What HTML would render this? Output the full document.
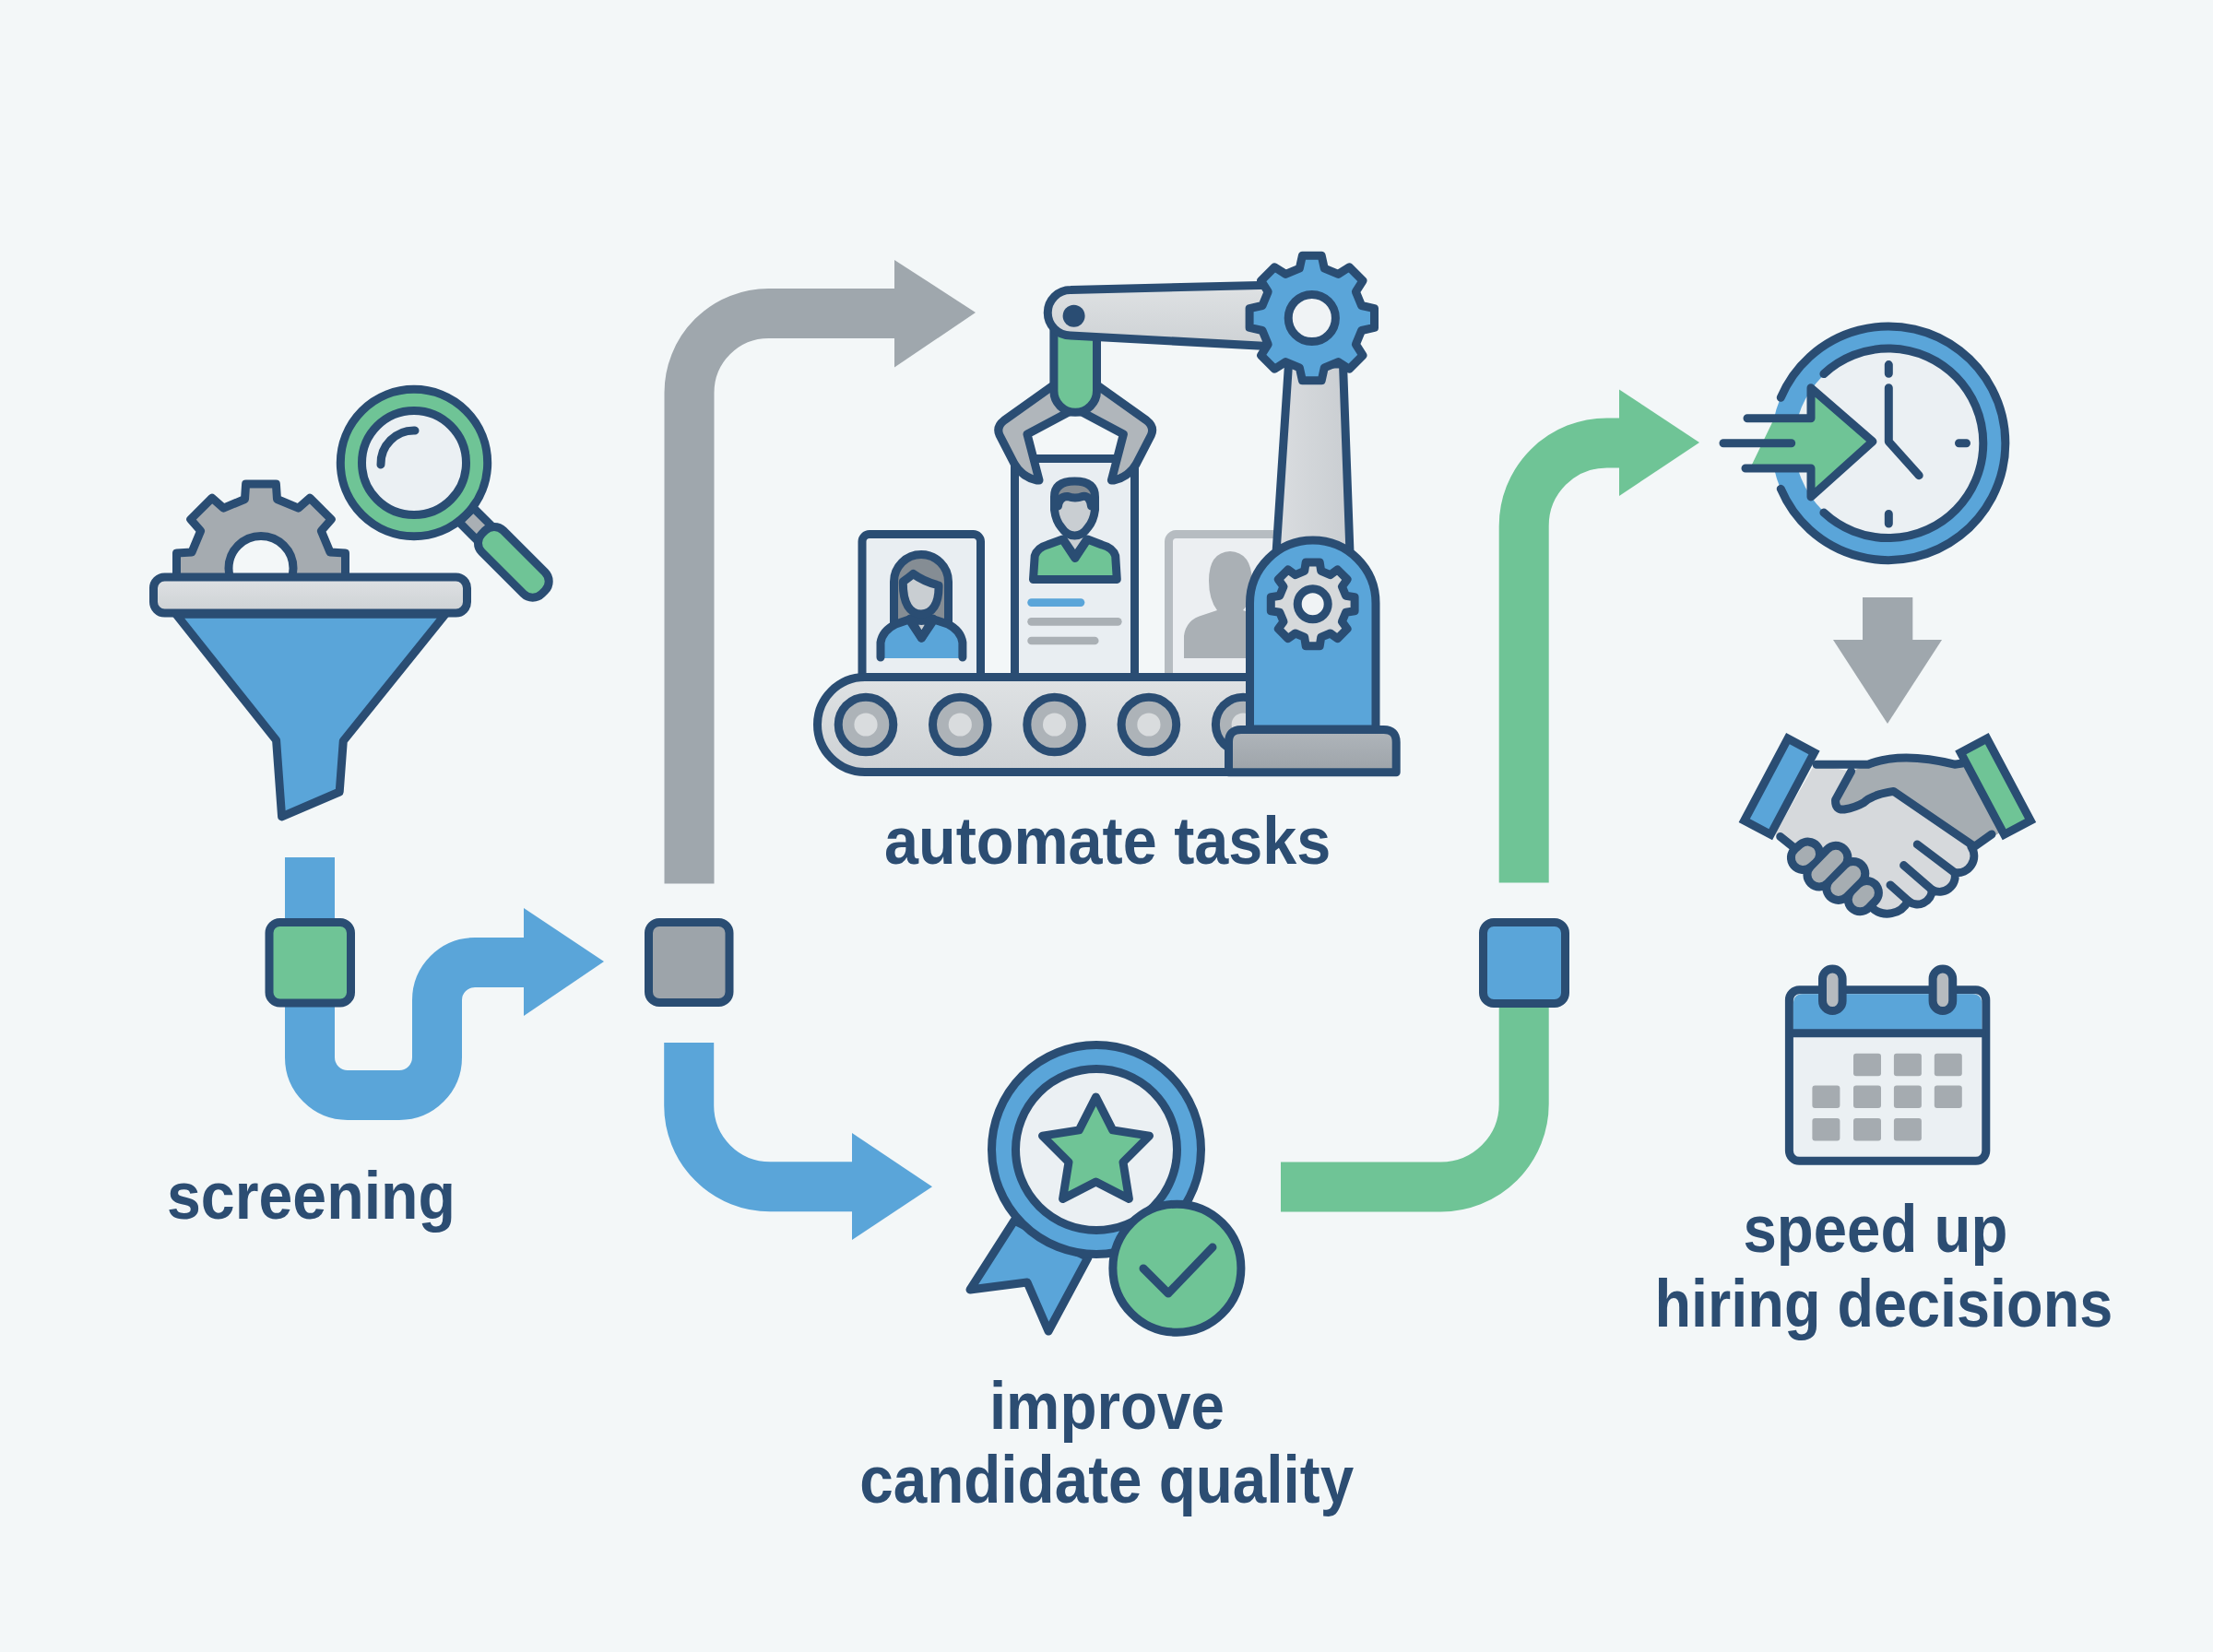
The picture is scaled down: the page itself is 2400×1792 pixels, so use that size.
<!DOCTYPE html>
<html><head><meta charset="utf-8"><style>html,body{margin:0;padding:0;background:#f3f7f8;}svg{display:block}</style></head>
<body><svg width="2400" height="1792" viewBox="0 0 2400 1792">
<defs><linearGradient id="lg" x1="0" y1="0" x2="0" y2="1"><stop offset="0" stop-color="#dfe2e4"/><stop offset="1" stop-color="#cdd1d4"/></linearGradient><linearGradient id="lgh" x1="0" y1="0" x2="1" y2="0"><stop offset="0" stop-color="#dadde0"/><stop offset="1" stop-color="#c9cdd1"/></linearGradient><linearGradient id="dg" x1="0" y1="0" x2="0" y2="1"><stop offset="0" stop-color="#b0b6bb"/><stop offset="1" stop-color="#9da3a9"/></linearGradient></defs>
<rect x="0" y="0" width="2400" height="1792" fill="#f3f7f8"/>
<path d="M336,930 V1147 A41,41 0 0 0 377,1188 H433 A41,41 0 0 0 474,1147 V1085 A41,41 0 0 1 515,1044 H570" stroke="#5aa5d9" fill="none" stroke-width="54" stroke-linecap="butt"/>
<path d="M568,985 L655,1043 L568,1102Z" fill="#5aa5d9"/>
<path d="M747.5,958.5 V426 A86,86 0 0 1 833.5,340 H972" stroke="#9fa7ad" fill="none" stroke-width="54" stroke-linecap="butt"/>
<path d="M970,282 L1058,339 L970,398.5Z" fill="#9fa7ad"/>
<path d="M747.2,1131 V1199.3 A88,88 0 0 0 835.2,1287.3 H926" stroke="#5aa5d9" fill="none" stroke-width="54" stroke-linecap="butt"/>
<path d="M924,1229 L1011,1287.3 L924,1345Z" fill="#5aa5d9"/>
<path d="M1389,1287.5 H1562.7 A90,90 0 0 0 1652.7,1197.5 V1090" stroke="#6fc496" fill="none" stroke-width="54" stroke-linecap="butt"/>
<path d="M1652.7,957.5 V570.4 A90,90 0 0 1 1742.7,480.4 H1758" stroke="#6fc496" fill="none" stroke-width="54" stroke-linecap="butt"/>
<path d="M1756,422.5 L1843,480 L1756,538Z" fill="#6fc496"/>
<rect x="2020" y="648" width="54.3" height="47" fill="#9fa7ad"/>
<path d="M1988,694 L2106,694 L2047,785Z" fill="#9fa7ad"/>
<rect x="292" y="1000.5" width="88.5" height="87.5" rx="11.5" fill="#6fc496" stroke="#2a4d73" stroke-width="9"/>
<rect x="703.5" y="1000.5" width="87.5" height="87" rx="11.5" fill="#9da4aa" stroke="#2a4d73" stroke-width="9"/>
<rect x="1608.5" y="1000.5" width="89" height="88" rx="11.5" fill="#5aa5d9" stroke="#2a4d73" stroke-width="9"/>
<path d="M265.5,541.5 L266.6,525.0 L299.4,525.0 L300.5,541.5 L323.6,551.1 L336.1,540.2 L359.3,563.4 L348.4,575.9 L358.0,599.0 L374.5,600.1 L374.5,632.9 L358.0,634.0 L348.4,657.1 L359.3,669.6 L336.1,692.8 L323.6,681.9 L300.5,691.5 L299.4,708.0 L266.6,708.0 L265.5,691.5 L242.4,681.9 L229.9,692.8 L206.7,669.6 L217.6,657.1 L208.0,634.0 L191.5,632.9 L191.5,600.1 L208.0,599.0 L217.6,575.9 L206.7,563.4 L229.9,540.2 L242.4,551.1Z" fill="#a5abb0" stroke="#2a4d73" stroke-width="9" stroke-linejoin="round"/>
<circle cx="283" cy="616.5" r="35" fill="#f3f7f8" stroke="#2a4d73" stroke-width="9"/>
<rect x="166.5" y="626" width="340" height="39" rx="12" fill="url(#lg)" stroke="#2a4d73" stroke-width="9"/>
<path d="M190.9,666.3 L299.6,803 L305.6,885.9 L368.2,859 L372.3,803.7 L483,666.3Z" fill="#5aa5d9" stroke="#2a4d73" stroke-width="9" stroke-linejoin="round"/>
<g transform="translate(449,502) rotate(45)"><rect x="80" y="-11" width="28" height="22" fill="#a9afb4" stroke="#2a4d73" stroke-width="9"/><rect x="106.5" y="-16.5" width="92" height="33" rx="14" fill="#6fc496" stroke="#2a4d73" stroke-width="9"/></g>
<circle cx="449" cy="502" r="79.7" fill="#6fc496" stroke="#2a4d73" stroke-width="9"/>
<circle cx="449" cy="502" r="56.5" fill="#ebf0f3" stroke="#2a4d73" stroke-width="9"/>
<path d="M413,504 A36,36 0 0 1 450,467" fill="none" stroke="#2a4d73" stroke-width="9" stroke-linecap="round"/>
<rect x="935" y="579.5" width="128.5" height="170" rx="8" fill="#e9eef2" stroke="#2a4d73" stroke-width="9"/>
<rect x="1100.5" y="497.5" width="130" height="250" rx="8" fill="#e9eef2" stroke="#2a4d73" stroke-width="9"/>
<rect x="1267.5" y="579.5" width="140" height="170" rx="8" fill="#eceff2" stroke="#b6bcc1" stroke-width="9"/>
<path d="M1284,714 V690 Q1286,672 1305,667 L1320,662 Q1311,650 1311,630 Q1311,599 1334,598 Q1357,599 1358,630 Q1358,652 1348,662 L1363,667 Q1380,672 1382,690 V714Z" fill="#aab0b5"/>
<path d="M969.5,706 V631 A29.5,29.5 0 0 1 1028.5,631 V706Z" fill="#858d94" stroke="#2a4d73" stroke-width="9" stroke-linejoin="round"/>
<path d="M955,714 V697 Q957,684 971.5,677 L986,672 L999.4,692.3 L1013,672 L1028,677 Q1042,684 1043.9,697 V714Z" fill="#5aa5d9"/>
<path d="M955,713 V697 Q957,684 971.5,677 L986,672 L999.4,692.3 L1013,672 L1028,677 Q1042,684 1043.9,697 V713" fill="none" stroke="#2a4d73" stroke-width="9" stroke-linejoin="round" stroke-linecap="round"/>
<path d="M987,671 Q999,676 1012,671 L999.4,692Z" fill="#c9ced2" stroke="#2a4d73" stroke-width="9" stroke-linejoin="round"/>
<path d="M979.3,631 Q985,627 990.4,622.5 Q1002,631 1018,635 C1018.5,655 1011,666 999,666 C987,666 979,655 979.3,631Z" fill="#c9ced2" stroke="#2a4d73" stroke-width="9" stroke-linejoin="round"/>
<path d="M1120.5,628.5 L1122.2,603 Q1125,594 1136,591 L1152.4,585 L1165.9,605.6 L1179.4,585 L1195,591 Q1207,594 1209.7,603 L1211.3,628.5Z" fill="#6fc496" stroke="#2a4d73" stroke-width="9" stroke-linejoin="round"/>
<path d="M1151,582 L1180.8,582 L1165.9,604Z" fill="#c9ced2"/>
<path d="M1151,582 L1165.9,604 L1180.8,582" fill="none" stroke="#2a4d73" stroke-width="9" stroke-linejoin="round"/>
<path d="M1143.5,553 L1143.5,539 Q1143.5,522 1165.5,522 Q1187.5,522 1187.5,539 L1187.5,553 Q1186,565 1180,572 Q1174,581 1165.5,581 Q1157,581 1151,572 Q1145,565 1143.5,553Z" fill="#c9ced2"/>
<path d="M1147,550 L1147,538 Q1148,526 1165.5,526 Q1183,526 1184,538 L1184,550 Q1181,537 1174,538 Q1166,541 1158,538 Q1150,537 1147,550Z" fill="#858d94"/>
<path d="M1147.5,549 Q1149,538 1158,538.5 Q1166,541.5 1174,538.5 Q1182,537 1183.5,549" fill="none" stroke="#2a4d73" stroke-width="9" stroke-linecap="round" stroke-linejoin="round"/>
<path d="M1143.5,553 L1143.5,539 Q1143.5,522 1165.5,522 Q1187.5,522 1187.5,539 L1187.5,553 Q1186,565 1180,572 Q1174,581 1165.5,581 Q1157,581 1151,572 Q1145,565 1143.5,553Z" fill="none" stroke="#2a4d73" stroke-width="9" stroke-linejoin="round"/>
<path d="M1118.6,653.6 H1172" stroke="#5aa5d9" stroke-width="8.7" stroke-linecap="round"/>
<path d="M1118.6,674.3 H1212.3" stroke="#aab0b5" stroke-width="8.7" stroke-linecap="round"/>
<path d="M1118.6,695 H1187.2" stroke="#aab0b5" stroke-width="8.7" stroke-linecap="round"/>
<rect x="886.5" y="734.5" width="560" height="103" rx="51.5" fill="url(#lg)" stroke="#2a4d73" stroke-width="9"/>
<circle cx="939" cy="786" r="29.8" fill="#adb3b8" stroke="#2a4d73" stroke-width="9"/>
<circle cx="939" cy="786" r="12.6" fill="#d9dcde"/>
<circle cx="1041.3" cy="786" r="29.8" fill="#adb3b8" stroke="#2a4d73" stroke-width="9"/>
<circle cx="1041.3" cy="786" r="12.6" fill="#d9dcde"/>
<circle cx="1143.6" cy="786" r="29.8" fill="#adb3b8" stroke="#2a4d73" stroke-width="9"/>
<circle cx="1143.6" cy="786" r="12.6" fill="#d9dcde"/>
<circle cx="1245.9" cy="786" r="29.8" fill="#adb3b8" stroke="#2a4d73" stroke-width="9"/>
<circle cx="1245.9" cy="786" r="12.6" fill="#d9dcde"/>
<circle cx="1348.2" cy="786" r="29.8" fill="#adb3b8" stroke="#2a4d73" stroke-width="9"/>
<circle cx="1348.2" cy="786" r="12.6" fill="#d9dcde"/>
<path d="M1397.5,395 L1456.5,395 L1464,600 L1384,600Z" fill="url(#lgh)" stroke="#2a4d73" stroke-width="9" stroke-linejoin="round"/>
<path d="M1355.5,791 V654.3 A68.25,68.25 0 0 1 1492,654.3 V791Z" fill="#5aa5d9" stroke="#2a4d73" stroke-width="9"/>
<path d="M1332.5,837.7 V805 Q1332.5,791.5 1346,791.5 H1500.7 Q1514.2,791.5 1514.2,805 V837.7Z" fill="url(#dg)" stroke="#2a4d73" stroke-width="9" stroke-linejoin="round"/>
<path d="M1414.7,619.4 L1416.2,609.9 L1431.2,609.9 L1432.7,619.4 L1442.7,623.6 L1450.5,617.9 L1461.1,628.5 L1455.4,636.3 L1459.6,646.3 L1469.1,647.8 L1469.1,662.8 L1459.6,664.3 L1455.4,674.3 L1461.1,682.1 L1450.5,692.7 L1442.7,687.0 L1432.7,691.2 L1431.2,700.7 L1416.2,700.7 L1414.7,691.2 L1404.7,687.0 L1396.9,692.7 L1386.3,682.1 L1392.0,674.3 L1387.8,664.3 L1378.3,662.8 L1378.3,647.8 L1387.8,646.3 L1392.0,636.3 L1386.3,628.5 L1396.9,617.9 L1404.7,623.6Z" fill="#d6d9db" stroke="#2a4d73" stroke-width="9" stroke-linejoin="round"/>
<circle cx="1423.7" cy="655.3" r="16.5" fill="#f0f3f5" stroke="#2a4d73" stroke-width="9"/>
<path d="M1141.0,419 L1089.0,456 Q1080.0,463 1084.0,472 L1100.0,503 Q1108.0,517 1124.0,521 L1127.0,521 L1114.0,471 L1159.0,447 Z" fill="#b0b6bb" stroke="#2a4d73" stroke-width="9" stroke-linejoin="round"/>
<path d="M1191.4,419 L1243.4,456 Q1252.4,463 1248.4,472 L1232.4,503 Q1224.4,517 1208.4,521 L1205.4,521 L1218.4,471 L1173.4,447 Z" fill="#b0b6bb" stroke="#2a4d73" stroke-width="9" stroke-linejoin="round"/>
<path d="M1142.9,350 V424 A23.3,23.3 0 0 0 1189.5,424 V350" fill="#6fc496" stroke="#2a4d73" stroke-width="9"/>
<path d="M1161,314.5 L1430,308 L1430,378.5 L1161,364 A24.5,24.5 0 0 1 1161,314.5Z" fill="url(#lg)" stroke="#2a4d73" stroke-width="9" stroke-linejoin="round"/>
<circle cx="1164.6" cy="342.8" r="12" fill="#2a4d73"/>
<path d="M1409.3,291.2 L1412.4,277.3 L1433.2,277.3 L1436.3,291.2 L1451.3,297.4 L1463.3,289.8 L1478.0,304.5 L1470.4,316.5 L1476.6,331.5 L1490.5,334.6 L1490.5,355.4 L1476.6,358.5 L1470.4,373.5 L1478.0,385.5 L1463.3,400.2 L1451.3,392.6 L1436.3,398.8 L1433.2,412.7 L1412.4,412.7 L1409.3,398.8 L1394.3,392.6 L1382.3,400.2 L1367.6,385.5 L1375.2,373.5 L1369.0,358.5 L1355.1,355.4 L1355.1,334.6 L1369.0,331.5 L1375.2,316.5 L1367.6,304.5 L1382.3,289.8 L1394.3,297.4Z" fill="#5aa5d9" stroke="#2a4d73" stroke-width="9" stroke-linejoin="round"/>
<circle cx="1422.8" cy="345" r="25.6" fill="#f0f3f5" stroke="#2a4d73" stroke-width="9"/>
<circle cx="2048" cy="480.8" r="127" fill="#5aa5d9"/>
<circle cx="2048" cy="480.8" r="102" fill="#ebf0f3"/>
<path d="M1931.3,431.3 A126.8,126.8 0 1 1 1931.3,530.3" fill="none" stroke="#2a4d73" stroke-width="9" stroke-linecap="round"/>
<path d="M1977.9,405.6 A102.8,102.8 0 1 1 1977.9,556.0" fill="none" stroke="#2a4d73" stroke-width="9" stroke-linecap="round"/>
<path d="M1898,508 L1925,452 L1964,453.7 L1964,420.8 L2030.9,478.9 L1964,539 L1964,508Z" fill="#6fc496"/>
<path d="M1895,453.7 H1964 V420.8 L2030.9,478.9 L1964,539 V508 H1893" fill="none" stroke="#2a4d73" stroke-width="9" stroke-linecap="round" stroke-linejoin="round"/>
<path d="M1869,480.8 H1942.7" stroke="#2a4d73" stroke-width="9" stroke-linecap="round"/>
<path d="M2048.3,395.6 V405.3 M2048.3,557.4 V568 M2124.5,480.8 H2132.5" stroke="#2a4d73" stroke-width="9" stroke-linecap="round"/>
<path d="M2048.3,420.8 V478.9 L2081.2,515.7" fill="none" stroke="#2a4d73" stroke-width="9" stroke-linecap="round" stroke-linejoin="round"/>
<path d="M1968,829 L2007.5,836.8 L1990.6,867.6 Q1990,879 2000,878 Q2012,876 2021.3,870.6 Q2030,862 2053.6,858.4 L2137.9,918.6 A18.3,18.3 0 0 1 2119.9,946.6 A17,17 0 0 1 2095.2,965.2 A15.7,15.7 0 0 1 2069.3,977.2 A25,25 0 0 1 2030,984.5 L1946,919.8 L1925,905Z" fill="#d6d9dc"/>
<path d="M2007.5,836.8 L2026,829.2 Q2062,815 2119.7,829.2 L2140,826 L2175,900 L2141.2,918.3 L2053.6,858.4 Q2030,862 2021.3,870.6 Q2012,876 2000,878 Q1990,879 1990.6,867.6Z" fill="#a6adb2"/>
<path d="M1970,829.2 L2026,829.2 Q2062,815 2119.7,829.2 L2128,828" fill="none" stroke="#2a4d73" stroke-width="9" stroke-linecap="round" stroke-linejoin="round"/>
<path d="M2007.5,836.8 L1990.6,867.6 Q1990,879 2000,878 Q2012,876 2021.3,870.6 Q2030,862 2053.6,858.4 L2141.2,918.3 L2160,905" fill="none" stroke="#2a4d73" stroke-width="9" stroke-linecap="round" stroke-linejoin="round"/>
<path d="M2137.9,918.6 A18.3,18.3 0 0 1 2119.9,946.6 A17,17 0 0 1 2095.2,965.2 A15.7,15.7 0 0 1 2069.3,977.2 A25,25 0 0 1 2030,984.5" fill="none" stroke="#2a4d73" stroke-width="9" stroke-linecap="round" stroke-linejoin="round"/>
<path d="M2079.3,916 L2119.9,946.6 M2064.6,938.6 L2095.2,965.2 M2050,959.9 L2069.3,977.2" fill="none" stroke="#2a4d73" stroke-width="9" stroke-linecap="round"/>
<path d="M1930.7,907.5 L1950,923" fill="none" stroke="#2a4d73" stroke-width="9" stroke-linecap="round"/>
<path d="M1955.4,930.5 L1960.6,926.1" stroke="#2a4d73" stroke-width="35" stroke-linecap="round"/>
<path d="M1972.9,948.9 L1990.9,930.3" stroke="#2a4d73" stroke-width="35" stroke-linecap="round"/>
<path d="M1993.8,963.4 L2009.8,947.4" stroke="#2a4d73" stroke-width="35" stroke-linecap="round"/>
<path d="M2017.2,975.8 L2024.4,968.4" stroke="#2a4d73" stroke-width="35" stroke-linecap="round"/>
<path d="M1955.4,930.5 L1960.6,926.1" stroke="#a6adb2" stroke-width="17" stroke-linecap="round"/>
<path d="M1972.9,948.9 L1990.9,930.3" stroke="#a6adb2" stroke-width="17" stroke-linecap="round"/>
<path d="M1993.8,963.4 L2009.8,947.4" stroke="#a6adb2" stroke-width="17" stroke-linecap="round"/>
<path d="M2017.2,975.8 L2024.4,968.4" stroke="#a6adb2" stroke-width="17" stroke-linecap="round"/>
<g transform="translate(1929.6,853.2) rotate(28)"><rect x="-16.15" y="-50.35" width="32.3" height="100.7" fill="#5aa5d9" stroke="#2a4d73" stroke-width="9"/></g>
<g transform="translate(2164.2,853.2) rotate(-28)"><rect x="-16.15" y="-50.35" width="32.3" height="100.7" fill="#6fc496" stroke="#2a4d73" stroke-width="9"/></g>
<rect x="1940.4" y="1073.8" width="213.4" height="185.5" rx="11" fill="#ebf0f3" stroke="#2a4d73" stroke-width="9"/>
<path d="M1944.9,1120.8 V1089 Q1944.9,1078.3 1955,1078.3 H2139 Q2149.3,1078.3 2149.3,1089 V1120.8Z" fill="#5aa5d9"/>
<path d="M1940.4,1120.8 H2153.8" stroke="#2a4d73" stroke-width="9"/>
<rect x="1976.5" y="1051" width="21.6" height="45.6" rx="10.8" fill="#b6bbbf" stroke="#2a4d73" stroke-width="9"/>
<rect x="2096.1" y="1051" width="21.6" height="45.6" rx="10.8" fill="#b6bbbf" stroke="#2a4d73" stroke-width="9"/>
<rect x="2010" y="1142.7" width="30" height="24.5" rx="3" fill="#a5abb0"/>
<rect x="2053.9" y="1142.7" width="30" height="24.5" rx="3" fill="#a5abb0"/>
<rect x="2097.8" y="1142.7" width="30" height="24.5" rx="3" fill="#a5abb0"/>
<rect x="1965.4" y="1177.5" width="30" height="24.5" rx="3" fill="#a5abb0"/>
<rect x="2010" y="1177.5" width="30" height="24.5" rx="3" fill="#a5abb0"/>
<rect x="2053.9" y="1177.5" width="30" height="24.5" rx="3" fill="#a5abb0"/>
<rect x="2097.8" y="1177.5" width="30" height="24.5" rx="3" fill="#a5abb0"/>
<rect x="1965.4" y="1213.1" width="30" height="24.5" rx="3" fill="#a5abb0"/>
<rect x="2010" y="1213.1" width="30" height="24.5" rx="3" fill="#a5abb0"/>
<rect x="2053.9" y="1213.1" width="30" height="24.5" rx="3" fill="#a5abb0"/>
<path d="M1100,1324 L1052,1399 L1114,1391 L1137,1444 L1180,1364Z" fill="#5aa5d9" stroke="#2a4d73" stroke-width="9" stroke-linejoin="round"/>
<circle cx="1189" cy="1247" r="113.5" fill="#5aa5d9" stroke="#2a4d73" stroke-width="9"/>
<circle cx="1189" cy="1247" r="87.5" fill="#ebf0f3" stroke="#2a4d73" stroke-width="9"/>
<path d="M1188.5,1190.0 L1206.7,1225.9 L1246.5,1232.1 L1218.0,1260.6 L1224.4,1300.4 L1188.5,1282.0 L1152.6,1300.4 L1159.0,1260.6 L1130.5,1232.1 L1170.3,1225.9Z" fill="#6fc496" stroke="#2a4d73" stroke-width="9" stroke-linejoin="round"/>
<circle cx="1276.4" cy="1375.7" r="69.5" fill="#6fc496" stroke="#2a4d73" stroke-width="9"/>
<path d="M1240,1376 L1267,1403 L1315,1353" fill="none" stroke="#2a4d73" stroke-width="9" stroke-linecap="round" stroke-linejoin="round"/>
<text x="337.5" y="1322" text-anchor="middle" font-family="Liberation Sans" font-weight="bold" font-size="72" fill="#2c4d72" textLength="313.0" lengthAdjust="spacingAndGlyphs">screening</text>
<text x="1201.2" y="937" text-anchor="middle" font-family="Liberation Sans" font-weight="bold" font-size="72" fill="#2c4d72" textLength="484.3" lengthAdjust="spacingAndGlyphs">automate tasks</text>
<text x="1200.4" y="1550.2" text-anchor="middle" font-family="Liberation Sans" font-weight="bold" font-size="72" fill="#2c4d72" textLength="255.0" lengthAdjust="spacingAndGlyphs">improve</text>
<text x="1200.2" y="1629.7" text-anchor="middle" font-family="Liberation Sans" font-weight="bold" font-size="72" fill="#2c4d72" textLength="535.9" lengthAdjust="spacingAndGlyphs">candidate quality</text>
<text x="2033.9" y="1358.1" text-anchor="middle" font-family="Liberation Sans" font-weight="bold" font-size="72" fill="#2c4d72" textLength="286.8" lengthAdjust="spacingAndGlyphs">speed up</text>
<text x="2042.9" y="1438.5" text-anchor="middle" font-family="Liberation Sans" font-weight="bold" font-size="72" fill="#2c4d72" textLength="496.7" lengthAdjust="spacingAndGlyphs">hiring decisions</text>
</svg></body></html>
